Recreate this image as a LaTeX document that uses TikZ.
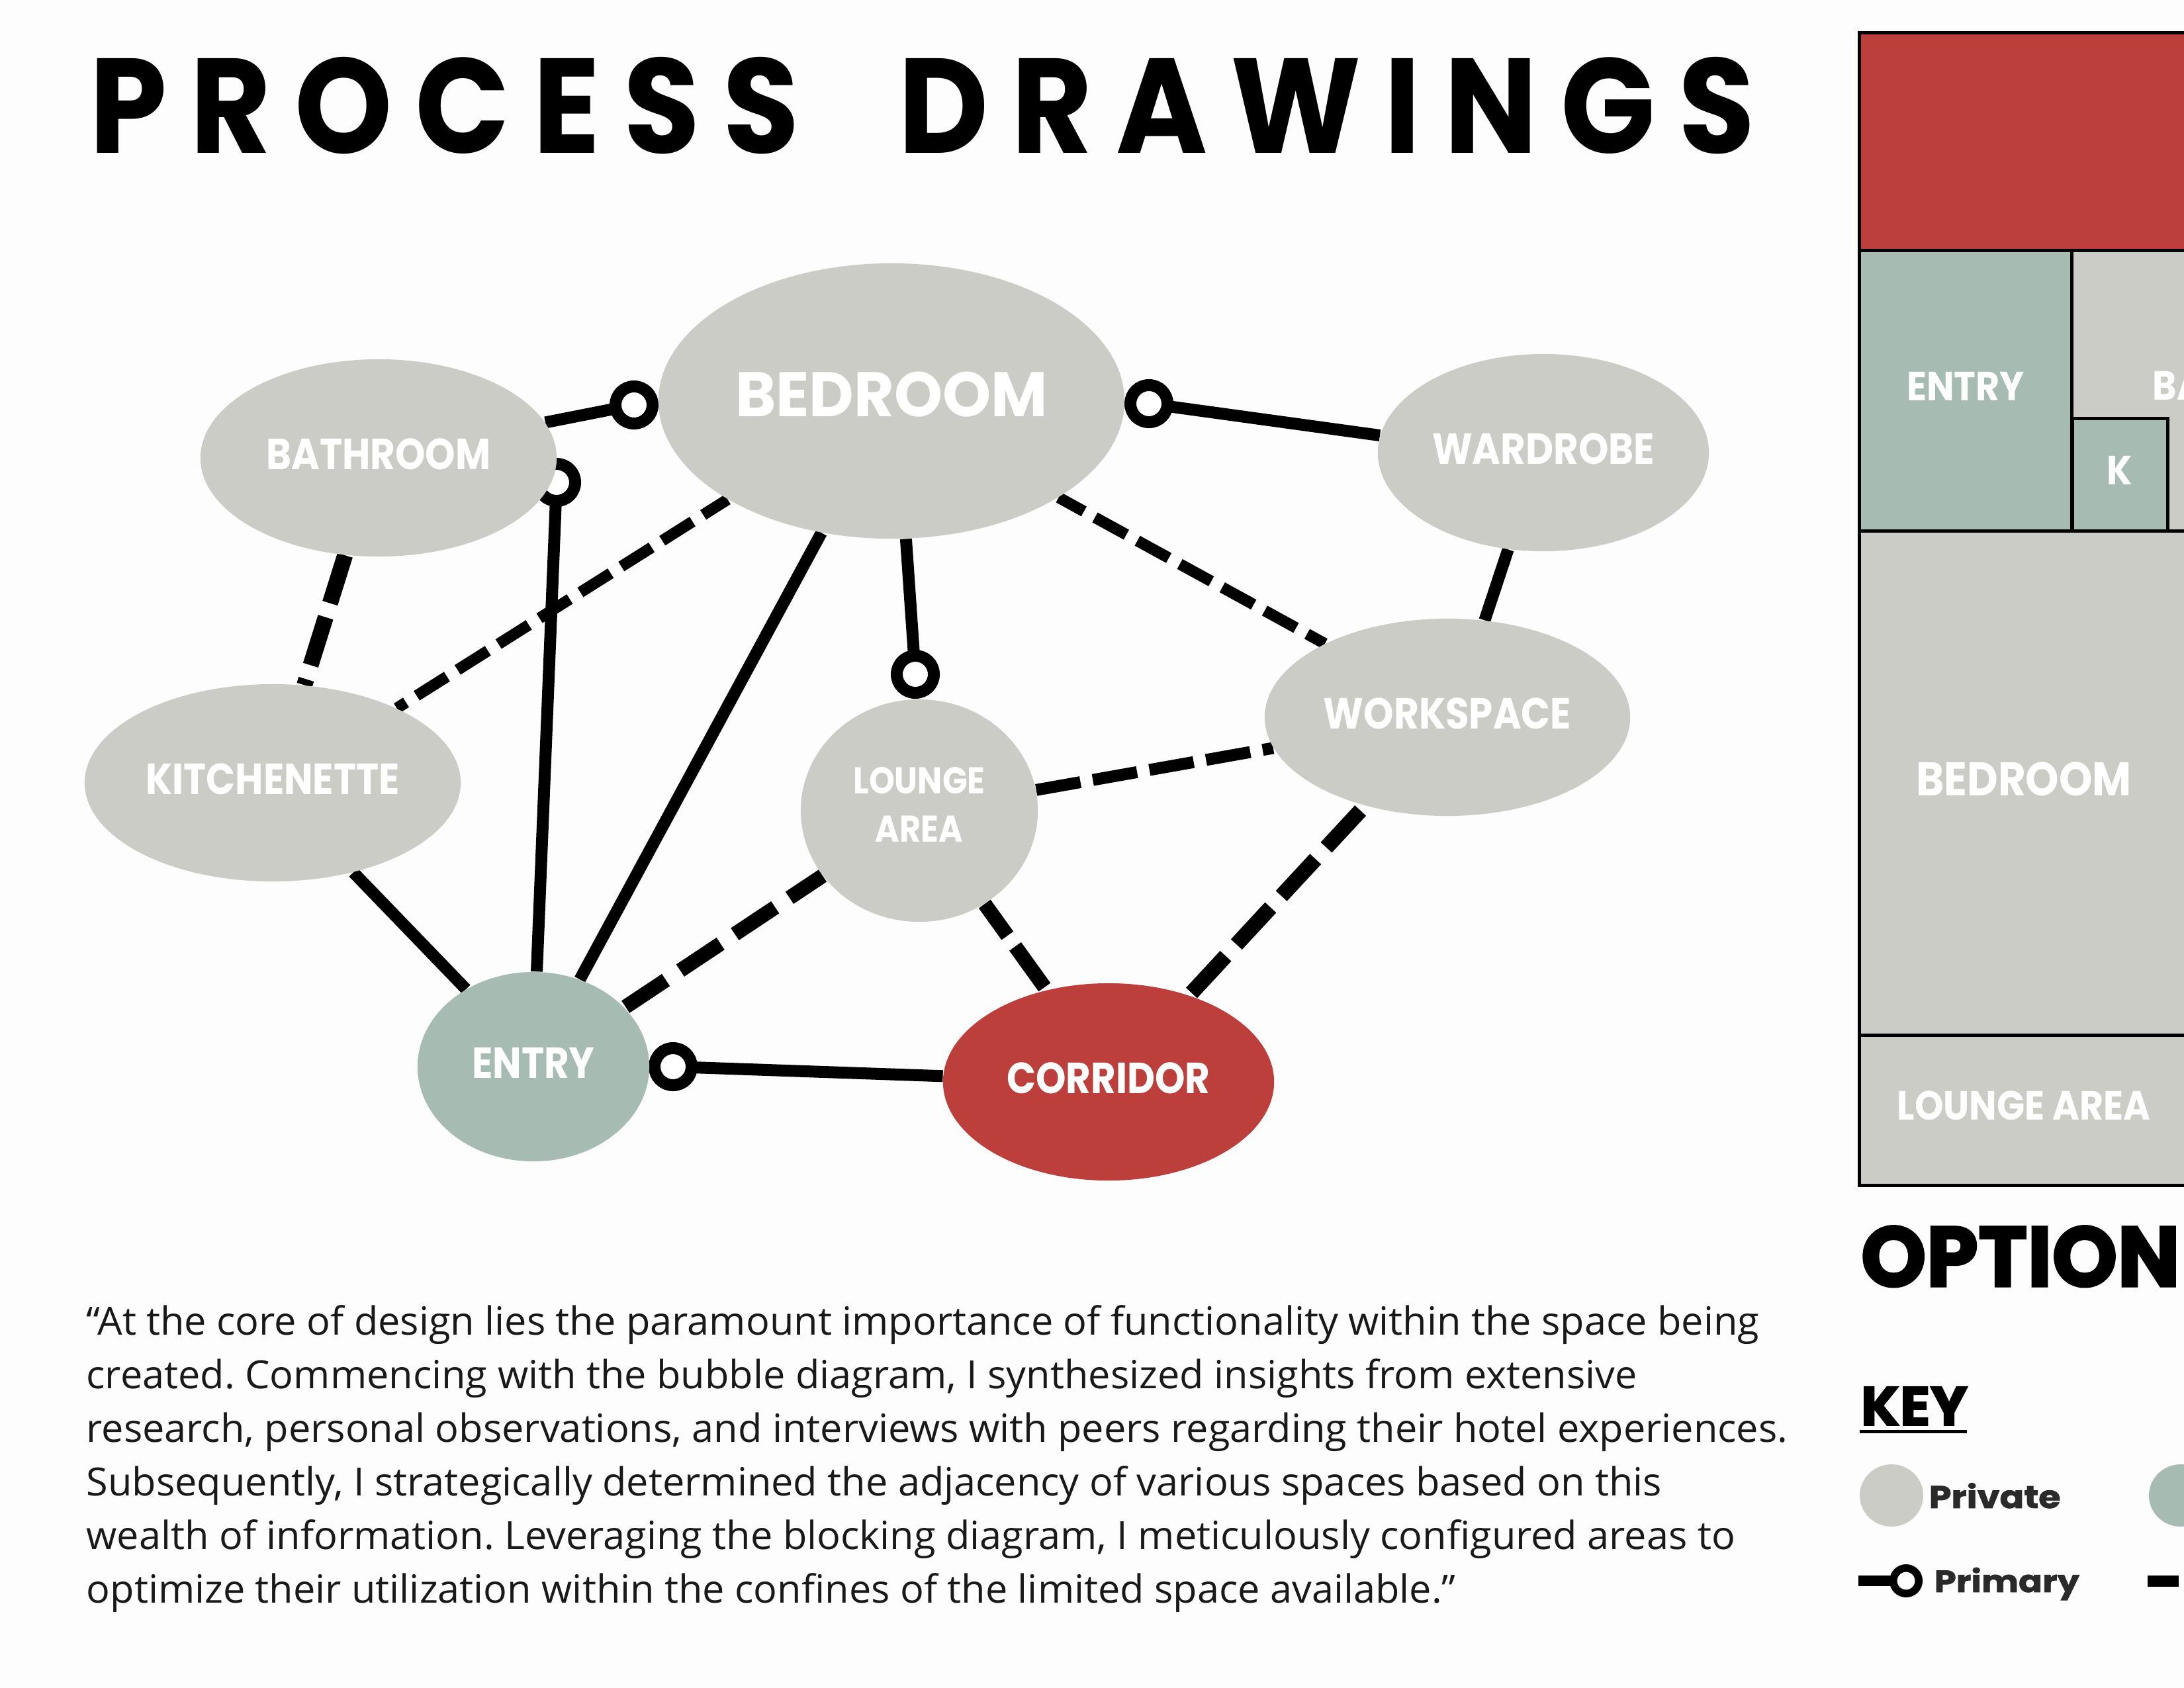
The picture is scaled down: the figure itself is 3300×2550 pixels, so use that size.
\documentclass[tikz,border=0pt]{standalone}
\usepackage{fontspec}
\usetikzlibrary{shapes.geometric,backgrounds}
\newfontfamily\labelfont[FakeStretch=0.88]{Poppins}
\newfontfamily\bedroomfont[FakeStretch=0.98]{Poppins}
\newfontfamily\blockfont[FakeStretch=0.9]{Poppins}
\newfontfamily\titlefont[FakeStretch=0.92,LetterSpace=17.2]{Poppins}
\newfontfamily\optionfont[FakeStretch=0.98,BoldFeatures={FakeBold=2.4,FakeStretch=0.98}]{Poppins}
\newfontfamily\heavyfont[FakeStretch=1.02,BoldFeatures={FakeBold=2.2,FakeStretch=1.02}]{Poppins}
\newfontfamily\keyfont[FakeStretch=1.14,BoldFeatures={FakeBold=1.6,FakeStretch=1.14}]{Poppins}
\newfontfamily\bodyfont[FakeStretch=1.012]{Open Sans}
\definecolor{privategray}{HTML}{CBCCC6}
\definecolor{publicteal}{HTML}{A6BCB2}
\definecolor{corridorred}{HTML}{BC3F3B}
\definecolor{keytext}{HTML}{2A2A2A}
\definecolor{paper}{HTML}{FDFDFD}

\begin{document}
\begin{tikzpicture}[
                    x=0.01cm, y=-0.01cm,
                    bubble/.style={ellipse, fill=privategray, text=white, inner sep=0pt, align=center, text depth=0.12cm, font=\labelfont\bfseries\fontsize{18.7}{21}\selectfont},
                    block/.style={rectangle, draw=black, line width=0.05cm, fill=privategray, text=white, inner sep=0pt, text depth=0.14cm, font=\blockfont\bfseries\fontsize{17.5}{20}\selectfont},
                    ring/.style={circle, draw=black, fill=white, line width=0.18cm, minimum size=0.56cm, inner sep=0pt, outer sep=0pt},
                    primary/.style={line width=0.18cm, black},
                    solidlink/.style={line width=0.18cm, black},
                    thinlink/.style={line width=0.17cm, black, dash pattern=on 15.4pt off 5.4pt, dash phase=3pt},
                    thicklink/.style={line width=0.22cm, black},
                ]
                    \useasboundingbox (0,0) rectangle (3300,2550);

                    \node[anchor=base west, inner sep=0pt, font=\titlefont\bfseries\fontsize{58}{60}\selectfont] (title) at (135,231) {PROCESS\hspace{21pt} DRAWINGS};

                    \node[bubble, minimum width=7.04cm, minimum height=4.16cm, text depth=0.21cm, font=\bedroomfont\bfseries\fontsize{27}{30}\selectfont] (bedroom) at (1347,606) {BEDROOM};
                    \node[bubble, minimum width=5.38cm, minimum height=2.98cm] (bathroom) at (572,692) {BATHROOM};
                    \node[bubble, minimum width=5cm, minimum height=2.98cm] (wardrobe) at (2332,684) {WARDROBE};
                    \node[bubble, minimum width=5.52cm, minimum height=2.98cm] (workspace) at (2187,1084) {WORKSPACE};
                    \node[bubble, minimum width=5.68cm, minimum height=2.98cm] (kitchenette) at (412,1183) {KITCHENETTE};
                    \node[bubble, minimum width=3.58cm, minimum height=3.36cm, text depth=0.18cm, font=\labelfont\bfseries\fontsize{16}{21}\selectfont] (lounge) at (1389,1225) {LOUNGE\\AREA};
                    \node[bubble, fill=publicteal, minimum width=3.5cm, minimum height=2.86cm] (entry) at (806,1612) {ENTRY};
                    \node[bubble, fill=corridorred, minimum width=5cm, minimum height=2.98cm] (corridor) at (1675,1635) {CORRIDOR};

                    \begin{scope}[on background layer]
                        \fill[paper] (0,0) rectangle (3300,2550);

                        \node[ring] (ringbathroom) at (958,612) {};
                        \node[ring] (ringentry) at (841,729) {};
                        \node[ring] (ringlounge) at (1383,1019) {};
                        \node[ring] (ringwardrobe) at (1736,610) {};
                        \node[ring] (ringcorridor) at (1017,1612) {};

                        \draw[primary] (bathroom.12) -- (ringbathroom);
                        \draw[primary] (entry.88) -- (ringentry);
                        \draw[primary] (bedroom.-84) -- (ringlounge);
                        \draw[primary] (wardrobe.174) -- (ringwardrobe);
                        \draw[primary] (corridor.178) -- (ringcorridor);

                        \draw[solidlink] (bedroom.242.5) -- (entry.62.4);
                        \draw[solidlink] (kitchenette.-48) -- (entry.131.5);
                        \draw[solidlink] (wardrobe.250.4) -- (workspace.69.8);

                        \draw[thinlink] (bedroom.211.7) -- (kitchenette.31.5);
                        \draw[thinlink] (bedroom.-30.2) -- (workspace.149.7);
                        \draw[thicklink, line width=0.24cm, dash pattern=on 21.6pt off 6.3pt] (bathroom.251.6) -- (kitchenette.72.4);
                        \draw[thicklink, line width=0.18cm, dash pattern=on 19.3pt off 5.4pt] (lounge.10.2) -- (workspace.190);
                        \draw[thicklink, dash pattern=on 20.8pt off 7.4pt, dash phase=3.7pt] (lounge.214.1) -- (entry.33.5);
                        \draw[thicklink, dash pattern=on 21.6pt off 5.7pt, dash phase=4.8pt] (lounge.-55) -- (corridor.124.5);
                        \draw[thicklink, line width=0.23cm, dash pattern=on 21.6pt off 6.8pt, dash phase=25.6pt] (workspace.227) -- (corridor.47.3);
                    \end{scope}

                    \node[anchor=north west, inner sep=0pt, align=left, text=black!90, font=\bodyfont\frenchspacing\fontsize{16.7}{23.05}\selectfont] (quote) at (130,1972) {%
                        “At the core of design lies the paramount importance of functionality within the space being\\
                        created. Commencing with the bubble diagram, I synthesized insights from extensive\\
                        research, personal observations, and interviews with peers regarding their hotel experiences.\\
                        Subsequently, I strategically determined the adjacency of various spaces based on this\\
                        wealth of information. Leveraging the blocking diagram, I meticulously configured areas to\\
                        optimize their utilization within the confines of the limited space available.”};

                    \node[block, fill=corridorred, minimum width=5.1cm, minimum height=3.29cm] (blockcorridor) at (3065,214.5) {};
                    \node[block, minimum width=2cm, minimum height=4.24cm] (blockbathroom) at (3230,591) {};
                    \node[block, fill=publicteal, minimum width=3.21cm, minimum height=4.24cm] (blockentry) at (2970,591) {ENTRY};
                    \node[block, fill=publicteal, minimum width=1.44cm, minimum height=1.7cm] (blockk) at (3203,718) {K};
                    \node[anchor=west, text=white, inner sep=0pt, font=\blockfont\bfseries\fontsize{17.5}{20}\selectfont] (labelbathroom) at (3252,583) {BA};
                    \node[block, minimum width=4.96cm, minimum height=7.62cm, font=\blockfont\bfseries\fontsize{20.3}{22}\selectfont] (blockbedroom) at (3058,1184) {BEDROOM};
                    \node[block, minimum width=4.96cm, minimum height=2.26cm] (blocklounge) at (3058,1678) {LOUNGE AREA};

                    \node[anchor=base west, inner sep=0pt, font=\optionfont\bfseries\fontsize{36.5}{40}\selectfont] (option) at (2811,1944) {OPTION};
                    \node[anchor=base west, inner sep=0pt, font=\heavyfont\bfseries\fontsize{23.6}{26}\selectfont] (keyhead) at (2811,2154) {KEY};
                    \coordinate (keyrulea) at (2810,2163);
                    \coordinate (keyruleb) at (2972,2163);
                    \draw[line width=0.05cm] (keyrulea) -- (keyruleb);

                    \node[ellipse, fill=privategray, minimum width=0.96cm, minimum height=0.94cm, inner sep=0pt] (keyprivate) at (2858,2260) {};
                    \node[anchor=base west, inner sep=0pt, text=keytext, font=\keyfont\bfseries\fontsize{13.5}{16}\selectfont] (keyprivatetext) at (2914,2279) {Private};
                    \node[ellipse, fill=publicteal, minimum width=0.96cm, minimum height=0.94cm, inner sep=0pt] (keypublic) at (3295,2260) {};

                    \coordinate (keystart) at (2808,2389);
                    \node[ring, line width=0.115cm, minimum size=0.385cm] (keyring) at (2880,2389) {};
                    \draw[line width=0.16cm] (keystart) -- (keyring);
                    \node[anchor=base west, inner sep=0pt, text=keytext, font=\keyfont\bfseries\fontsize{13.2}{16}\selectfont] (keyprimarytext) at (2922,2406) {Primary};
                    \coordinate (keydasha) at (3245,2389);
                    \coordinate (keydashb) at (3292,2389);
                    \draw[line width=0.17cm] (keydasha) -- (keydashb);
                \end{tikzpicture}
\end{document}
